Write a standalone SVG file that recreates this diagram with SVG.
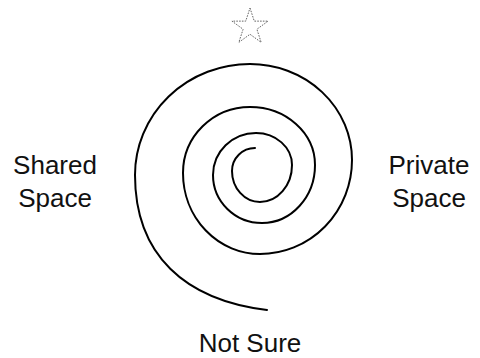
<svg xmlns="http://www.w3.org/2000/svg" width="480" height="358" viewBox="0 0 480 358">
<style>
.lbl{font-family:"Liberation Sans",Arial,sans-serif;font-size:26px;fill:#111;text-anchor:middle}
.spiral{fill:none;stroke:#000;stroke-width:2;stroke-linecap:round}
.star{fill:none;stroke:#555;stroke-width:0.9;stroke-dasharray:1.6 1.2}
</style>
<rect width="480" height="358" fill="#fff"/>
<g id="star"><polygon class="star" points="250,8 254.27,21.13 268.07,21.13 256.9,29.24 261.17,42.37 250,34.26 238.83,42.37 243.1,29.24 231.93,21.13 245.73,21.13"/></g>
<g id="connectors">
<path id="spiral" class="spiral" d="M255,148 A23,23 0 0 0 232,171 A28,31 0 0 0 260,202 A32,37 0 0 0 292,165 A36,32 0 0 0 256,133 A43,42 0 0 0 213,175 A49,48 0 0 0 262,223 A53,58 0 0 0 315,165 A65,58 0 0 0 250,107 A67,66 0 0 0 183,173 A77,81 0 0 0 260,254 A92,94 0 0 0 352,160 A102,96 0 0 0 250,64 A115,111 0 0 0 135,175 C135,255 185,300 267,310"/>
</g>
<g id="shared"><text class="lbl" x="55" y="174">Shared</text><text class="lbl" x="55" y="207">Space</text></g>
<g id="private"><text class="lbl" x="429" y="174">Private</text><text class="lbl" x="429" y="207">Space</text></g>
<g id="notsure"><text class="lbl" x="250" y="352">Not Sure</text></g>
</svg>
